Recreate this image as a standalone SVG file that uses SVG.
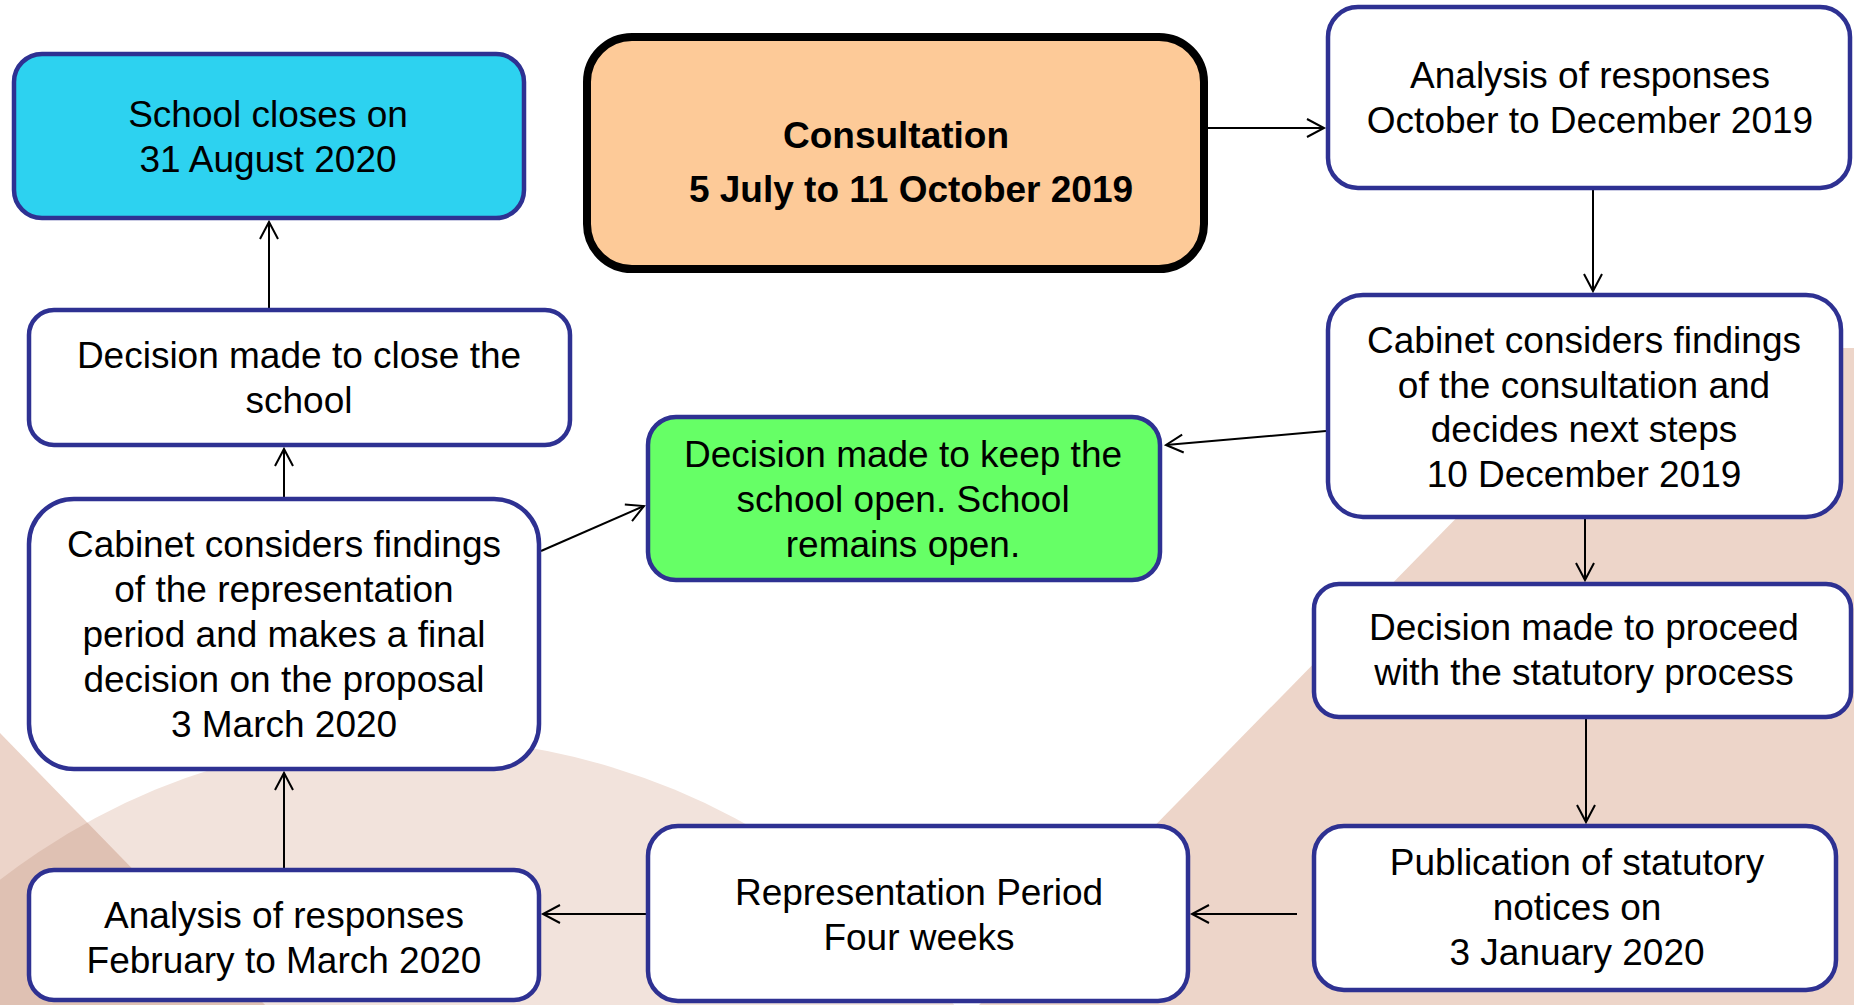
<svg xmlns="http://www.w3.org/2000/svg" width="1854" height="1005" viewBox="0 0 1854 1005">
<style>
.box{stroke:#2E3192;stroke-width:4.5;fill:#fff}
.t{font-family:"Liberation Sans",Arial,sans-serif;font-size:37px;fill:#000;text-anchor:middle}
.b{font-weight:bold}
.c{stroke:#000;stroke-width:2;fill:none;marker-end:url(#arr)}
</style>
<defs>
<marker id="arr" viewBox="-20 -12 24 24" refX="0" refY="0" markerWidth="24" markerHeight="24" markerUnits="userSpaceOnUse" orient="auto">
<path d="M-17,-9 L0,0 L-17,9" fill="none" stroke="#000" stroke-width="2"/>
</marker>
<clipPath id="circ"><circle cx="415" cy="1416" r="678"/></clipPath>
</defs>
<g id="background">
<rect width="1854" height="1005" fill="#fff"/>
<circle cx="415" cy="1416" r="678" fill="#F2E3DC"/>
<polygon points="0,733 265,1005 0,1005" fill="#ECD4C9"/>
<polygon points="0,733 265,1005 0,1005" fill="#DFC1B3" clip-path="url(#circ)"/>
<polygon points="979,1005 1623,348 1854,348 1854,1005" fill="#EDD5C9"/>
</g>
<g id="connectors">
<line class="c" x1="1208" y1="128" x2="1324" y2="128"/>
<line class="c" x1="1593" y1="190" x2="1593" y2="291"/>
<line class="c" x1="1326" y1="431" x2="1166" y2="445"/>
<line class="c" x1="1585" y1="519" x2="1585" y2="580"/>
<line class="c" x1="1586" y1="719" x2="1586" y2="822"/>
<line class="c" x1="1297" y1="914" x2="1192" y2="914"/>
<line class="c" x1="646" y1="914" x2="543" y2="914"/>
<line class="c" x1="284" y1="868" x2="284" y2="773"/>
<line class="c" x1="541" y1="551" x2="644" y2="506"/>
<line class="c" x1="284" y1="497" x2="284" y2="449"/>
<line class="c" x1="269" y1="308" x2="269" y2="222"/>
</g>
<g id="school-closes">
<rect class="box" x="14" y="54" width="510" height="164" rx="28" fill="#2DD2F0" style="fill:#2DD2F0"/>
<text class="t" x="268" y="127">School closes on</text>
<text class="t" x="268" y="172">31 August 2020</text>
</g>
<g id="consultation">
<rect x="587" y="37" width="617" height="232" rx="45" fill="#FDCA98" stroke="#000" stroke-width="8"/>
<text class="t b" x="896" y="148">Consultation</text>
<text class="t b" x="911" y="202">5 July to 11 October 2019</text>
</g>
<g id="analysis-oct">
<rect class="box" x="1328" y="7" width="522" height="181" rx="30"/>
<text class="t" x="1590" y="88">Analysis of responses</text>
<text class="t" x="1590" y="133">October to December 2019</text>
</g>
<g id="cabinet-dec">
<rect class="box" x="1328" y="295" width="513" height="222" rx="35"/>
<text class="t" x="1584" y="353">Cabinet considers findings</text>
<text class="t" x="1584" y="398">of the consultation and</text>
<text class="t" x="1584" y="442">decides next steps</text>
<text class="t" x="1584" y="487">10 December 2019</text>
</g>
<g id="proceed">
<rect class="box" x="1314" y="584" width="537" height="133" rx="25"/>
<text class="t" x="1584" y="640">Decision made to proceed</text>
<text class="t" x="1584" y="685">with the statutory process</text>
</g>
<g id="publication">
<rect class="box" x="1314" y="826" width="522" height="164" rx="30"/>
<text class="t" x="1577" y="875">Publication of statutory</text>
<text class="t" x="1577" y="920">notices on</text>
<text class="t" x="1577" y="965">3 January 2020</text>
</g>
<g id="representation">
<rect class="box" x="648" y="826" width="540" height="175" rx="30"/>
<text class="t" x="919" y="905">Representation Period</text>
<text class="t" x="919" y="950">Four weeks</text>
</g>
<g id="analysis-feb">
<rect class="box" x="29" y="870" width="510" height="130" rx="25"/>
<text class="t" x="284" y="928">Analysis of responses</text>
<text class="t" x="284" y="973">February to March 2020</text>
</g>
<g id="cabinet-mar">
<rect class="box" x="29" y="499" width="510" height="270" rx="45"/>
<text class="t" x="284" y="557">Cabinet considers findings</text>
<text class="t" x="284" y="602">of the representation</text>
<text class="t" x="284" y="647">period and makes a final</text>
<text class="t" x="284" y="692">decision on the proposal</text>
<text class="t" x="284" y="737">3 March 2020</text>
</g>
<g id="decision-close">
<rect class="box" x="29" y="310" width="541" height="135" rx="25"/>
<text class="t" x="299" y="368">Decision made to close the</text>
<text class="t" x="299" y="413">school</text>
</g>
<g id="keep-open">
<rect class="box" x="648" y="417" width="512" height="163" rx="28" style="fill:#66FF66"/>
<text class="t" x="903" y="467">Decision made to keep the</text>
<text class="t" x="903" y="512">school open. School</text>
<text class="t" x="903" y="557">remains open.</text>
</g>
</svg>
